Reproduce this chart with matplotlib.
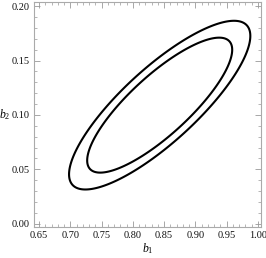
import numpy as np
import matplotlib.pyplot as plt
from matplotlib.ticker import MultipleLocator

# confidence region parameters
center = [0.843, 0.109]        # b1, b2
sigma = [0.058, 0.031]         # spread of b1, b2
rho = 0.82                     # correlation
levels = [4.0, 6.25]           # chi-square contour levels (inner, outer)

x_ticks = [0.65, 0.70, 0.75, 0.80, 0.85, 0.90, 0.95, 1.00]
y_ticks = [0.00, 0.05, 0.10, 0.15, 0.20]

b1 = np.linspace(0.62, 1.02, 600)
b2 = np.linspace(-0.02, 0.22, 600)
X, Y = np.meshgrid(b1, b2)
u = (X - center[0]) / sigma[0]
v = (Y - center[1]) / sigma[1]
Q = (u**2 - 2 * rho * u * v + v**2) / (1 - rho**2)

plt.rcParams['font.family'] = ['Liberation Serif', 'DejaVu Serif']
plt.rcParams['mathtext.fontset'] = 'custom'
plt.rcParams['mathtext.it'] = 'Liberation Serif:italic'
plt.rcParams['mathtext.rm'] = 'Liberation Serif'

fig = plt.figure(figsize=(2.66, 2.58), dpi=100)
ax = fig.add_axes([0.128, 0.120, 0.853, 0.872])
ax.contour(X, Y, Q, levels=levels, colors='black', linewidths=1.5)

ax.set_xlim(0.642, 1.005)
ax.set_ylim(-0.003, 0.2037)
ax.set_xticks(x_ticks)
ax.set_yticks(y_ticks)
ax.set_xticklabels([f"{t:.2f}" for t in x_ticks])
ax.set_yticklabels([f"{t:.2f}" for t in y_ticks])
ax.xaxis.set_minor_locator(MultipleLocator(0.01))
ax.yaxis.set_minor_locator(MultipleLocator(0.01))
ax.tick_params(which='both', direction='in', top=True, right=True,
               color='#999999', labelsize=7.5, labelcolor='#111111', pad=3)
ax.tick_params(which='major', length=4, width=0.6)
ax.tick_params(which='minor', length=2, width=0.5)
for s in ax.spines.values():
    s.set_color('#aaaaaa')
    s.set_linewidth(0.8)

ax.set_xlabel('$b_1$', fontsize=8.5, labelpad=1)
ax.set_ylabel('$b_2$', fontsize=8.5, rotation=0, labelpad=5, va='center')

fig.savefig('out.png', dpi=100)
